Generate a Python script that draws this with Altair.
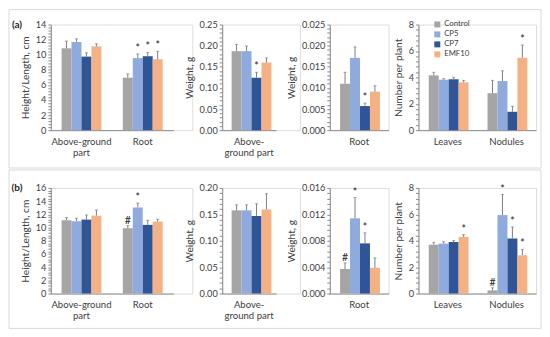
import altair as alt
import pandas as pd

groups = ["Control", "CP5", "CP7", "EMF10"]
colors = ["#a5a5a5", "#8faadc", "#2f5597", "#f4b183"]
tags = ["(a)", "(b)"]

# ---- Row (a) ----
a_h_cats = ["Above-ground part", "Root"]
a_h_mean = [[10.85, 11.7, 9.75, 11.1], [6.95, 9.55, 9.8, 9.4]]
a_h_err = [[0.95, 0.4, 0.5, 0.35], [0.5, 0.55, 0.5, 1.05]]
a_h_sig = [["", "", "", ""], ["", "*", "*", "*"]]

a_wa_cats = ["Above-ground part"]
a_wa_mean = [[0.187, 0.187, 0.124, 0.160]]
a_wa_err = [[0.016, 0.012, 0.013, 0.011]]
a_wa_sig = [["", "", "*", ""]]

a_wr_cats = ["Root"]
a_wr_mean = [[0.0110, 0.0171, 0.0057, 0.0091]]
a_wr_err = [[0.0027, 0.0026, 0.0007, 0.0014]]
a_wr_sig = [["", "", "*", ""]]

a_n_cats = ["Leaves", "Nodules"]
a_n_mean = [[4.15, 3.82, 3.85, 3.62], [2.8, 3.72, 1.39, 5.48]]
a_n_err = [[0.23, 0.08, 0.15, 0.15], [0.97, 0.78, 0.42, 0.97]]
a_n_sig = [["", "", "", ""], ["", "", "", "*"]]

# ---- Row (b) ----
b_h_cats = ["Above-ground part", "Root"]
b_h_mean = [[11.1, 10.95, 11.2, 11.8], [9.9, 13.05, 10.4, 10.9]]
b_h_err = [[0.4, 0.45, 0.7, 0.85], [0.4, 0.65, 0.7, 0.35]]
b_h_sig = [["", "", "", ""], ["#", "*", "", ""]]

b_wa_cats = ["Above-ground part"]
b_wa_mean = [[0.1576, 0.1576, 0.147, 0.159]]
b_wa_err = [[0.0104, 0.0104, 0.023, 0.030]]
b_wa_sig = [["", "", "", ""]]

b_wr_cats = ["Root"]
b_wr_mean = [[0.0037, 0.0114, 0.0076, 0.0039]]
b_wr_err = [[0.00095, 0.00315, 0.0016, 0.0015]]
b_wr_sig = [["#", "*", "*", ""]]

b_n_cats = ["Leaves", "Nodules"]
b_n_mean = [[3.70, 3.78, 3.90, 4.29], [0.24, 5.94, 4.17, 2.90]]
b_n_err = [[0.17, 0.15, 0.12, 0.17], [0.20, 1.56, 0.87, 0.45]]
b_n_sig = [["", "", "", "*"], ["#", "*", "*", "*"]]

TXT = "#404040"
AX = "#8c8c8c"
ERR = "#7f7f7f"
PH = 106


def make_df(cats, means, errs, sigs):
    rows = []
    for ci, c in enumerate(cats):
        for gi, g in enumerate(groups):
            m = means[ci][gi]
            e = errs[ci][gi]
            rows.append({"cat": c, "group": g, "value": m, "top": m + e,
                         "sig": sigs[ci][gi]})
    return pd.DataFrame(rows)


def panel(cats, means, errs, sigs, pw, vw, ymax, major, minor, fmt, ytitle,
          label_expr, legend=False, tag=None, box=None):
    df = make_df(cats, means, errs, sigs)
    n = int(round(ymax / minor))
    tick_vals = [round(k * minor, 6) for k in range(n + 1)]
    test = f"abs(datum.value / {major} - round(datum.value / {major})) < 0.001"
    yaxis = alt.Axis(values=tick_vals,
                     labelExpr=f"{test} ? format(datum.value, '{fmt}') : ''",
                     labelOverlap=False, grid=False, tickSize=3, tickColor=AX,
                     domainColor=AX, labelFontSize=9.2, labelColor=TXT,
                     titleFontSize=10.2, titleFontWeight="normal", titleColor=TXT,
                     labelPadding=2, titlePadding=5, title=ytitle)
    yscale = alt.Scale(domain=[0, ymax], nice=False, zero=True)
    x = alt.X("cat:N", sort=cats,
              scale=alt.Scale(domain=cats, range=[0, pw], paddingInner=0.35, paddingOuter=0.175),
              axis=alt.Axis(title=None, labelAngle=0, ticks=False, domainColor=AX,
                            labelFontSize=9.6, labelColor=TXT, labelPadding=6,
                            labelLineHeight=11.5, labelExpr=label_expr))
    xo = alt.XOffset("group:N", sort=groups, scale=alt.Scale(domain=groups))
    if legend:
        leg = alt.Legend(orient="none", legendX=15, legendY=-4, title=None,
                         symbolType="square", symbolSize=36, symbolStrokeWidth=0,
                         labelFontSize=7.8, labelColor=TXT, rowPadding=1.0, labelOffset=3)
    else:
        leg = None
    color = alt.Color("group:N", scale=alt.Scale(domain=groups, range=colors), legend=leg)
    base = alt.Chart(df)
    bars = base.mark_bar().encode(x=x, xOffset=xo,
                                  y=alt.Y("value:Q", scale=yscale, axis=yaxis),
                                  color=color)
    rule = base.mark_rule(color=ERR, strokeWidth=1).encode(
        x=x, xOffset=xo, y=alt.Y("value:Q", scale=yscale, axis=yaxis), y2="top:Q")
    cap = base.mark_tick(color=ERR, thickness=1, size=3).encode(
        x=x, xOffset=xo, y=alt.Y("top:Q", scale=yscale, axis=yaxis))
    sig = base.transform_filter("datum.sig != ''").mark_text(
        baseline="bottom", dy=0, fontSize=10.5, color="#262626").encode(
        x=x, xOffset=xo, y=alt.Y("top:Q", scale=yscale, axis=yaxis), text="sig:N")
    layers = []
    if box is not None:
        bdf = pd.DataFrame({"k": [0]})
        layers.append(alt.Chart(bdf).mark_rect(fillOpacity=0, stroke="#d9d9d9", strokeWidth=1).encode(
            x=alt.value(box[0]), x2=alt.value(box[1]), y=alt.value(box[2]), y2=alt.value(box[3])))
    layers += [bars, rule, cap, sig]
    if tag is not None:
        tdf = pd.DataFrame({"t": [tag]})
        layers.append(alt.Chart(tdf).mark_text(fontWeight="bold", fontSize=10, color="#262626").encode(
            x=alt.value(-34), y=alt.value(0), text="t:N"))
    return alt.layer(*layers).properties(width=vw, height=PH)


lab_ag = "datum.label == 'Above-ground part' ? ['Above-ground', 'part'] : datum.label"
lab_ag2 = "datum.label == 'Above-ground part' ? ['Above-', 'ground part'] : datum.label"

p1a = panel(a_h_cats, a_h_mean, a_h_err, a_h_sig, 123, 142, 14, 2, 0.4, ".0f",
            "Height/Length, cm", lab_ag, tag=tags[0], box=(-42, 492, -15, 144))
p2a = panel(a_wa_cats, a_wa_mean, a_wa_err, a_wa_sig, 54, 78, 0.25, 0.05, 0.01, ".2f",
            "Weight, g", lab_ag2)
p3a = panel(a_wr_cats, a_wr_mean, a_wr_err, a_wr_sig, 59, 59, 0.025, 0.005, 0.001, ".3f",
            "Weight, g", "datum.label")
p4a = panel(a_n_cats, a_n_mean, a_n_err, a_n_sig, 118, 118, 8, 2, 0.4, ".0f",
            "Number per plant", "datum.label", legend=True)

p1b = panel(b_h_cats, b_h_mean, b_h_err, b_h_sig, 123, 142, 16, 2, 0.4, ".0f",
            "Height/Length, cm", lab_ag, tag=tags[1], box=(-42, 492, -18, 141))
p2b = panel(b_wa_cats, b_wa_mean, b_wa_err, b_wa_sig, 54, 78, 0.20, 0.05, 0.01, ".2f",
            "Weight, g", lab_ag2)
p3b = panel(b_wr_cats, b_wr_mean, b_wr_err, b_wr_sig, 59, 59, 0.016, 0.004, 0.0008, ".3f",
            "Weight, g", "datum.label")
p4b = panel(b_n_cats, b_n_mean, b_n_err, b_n_sig, 118, 118, 8, 2, 0.4, ".0f",
            "Number per plant", "datum.label")

chart = alt.concat(p1a, p2a, p3a, p4a, p1b, p2b, p3b, p4b, columns=4,
                   spacing={"row": 58, "column": 30}, bounds="flush").resolve_legend(
    color="independent").properties(
    padding={"left": 0, "top": 0, "right": 0, "bottom": 0}, background="white"
).configure_view(strokeWidth=0).configure(font="Lato")

chart.save("out.html", embed_options={"renderer": "svg", "actions": False})
